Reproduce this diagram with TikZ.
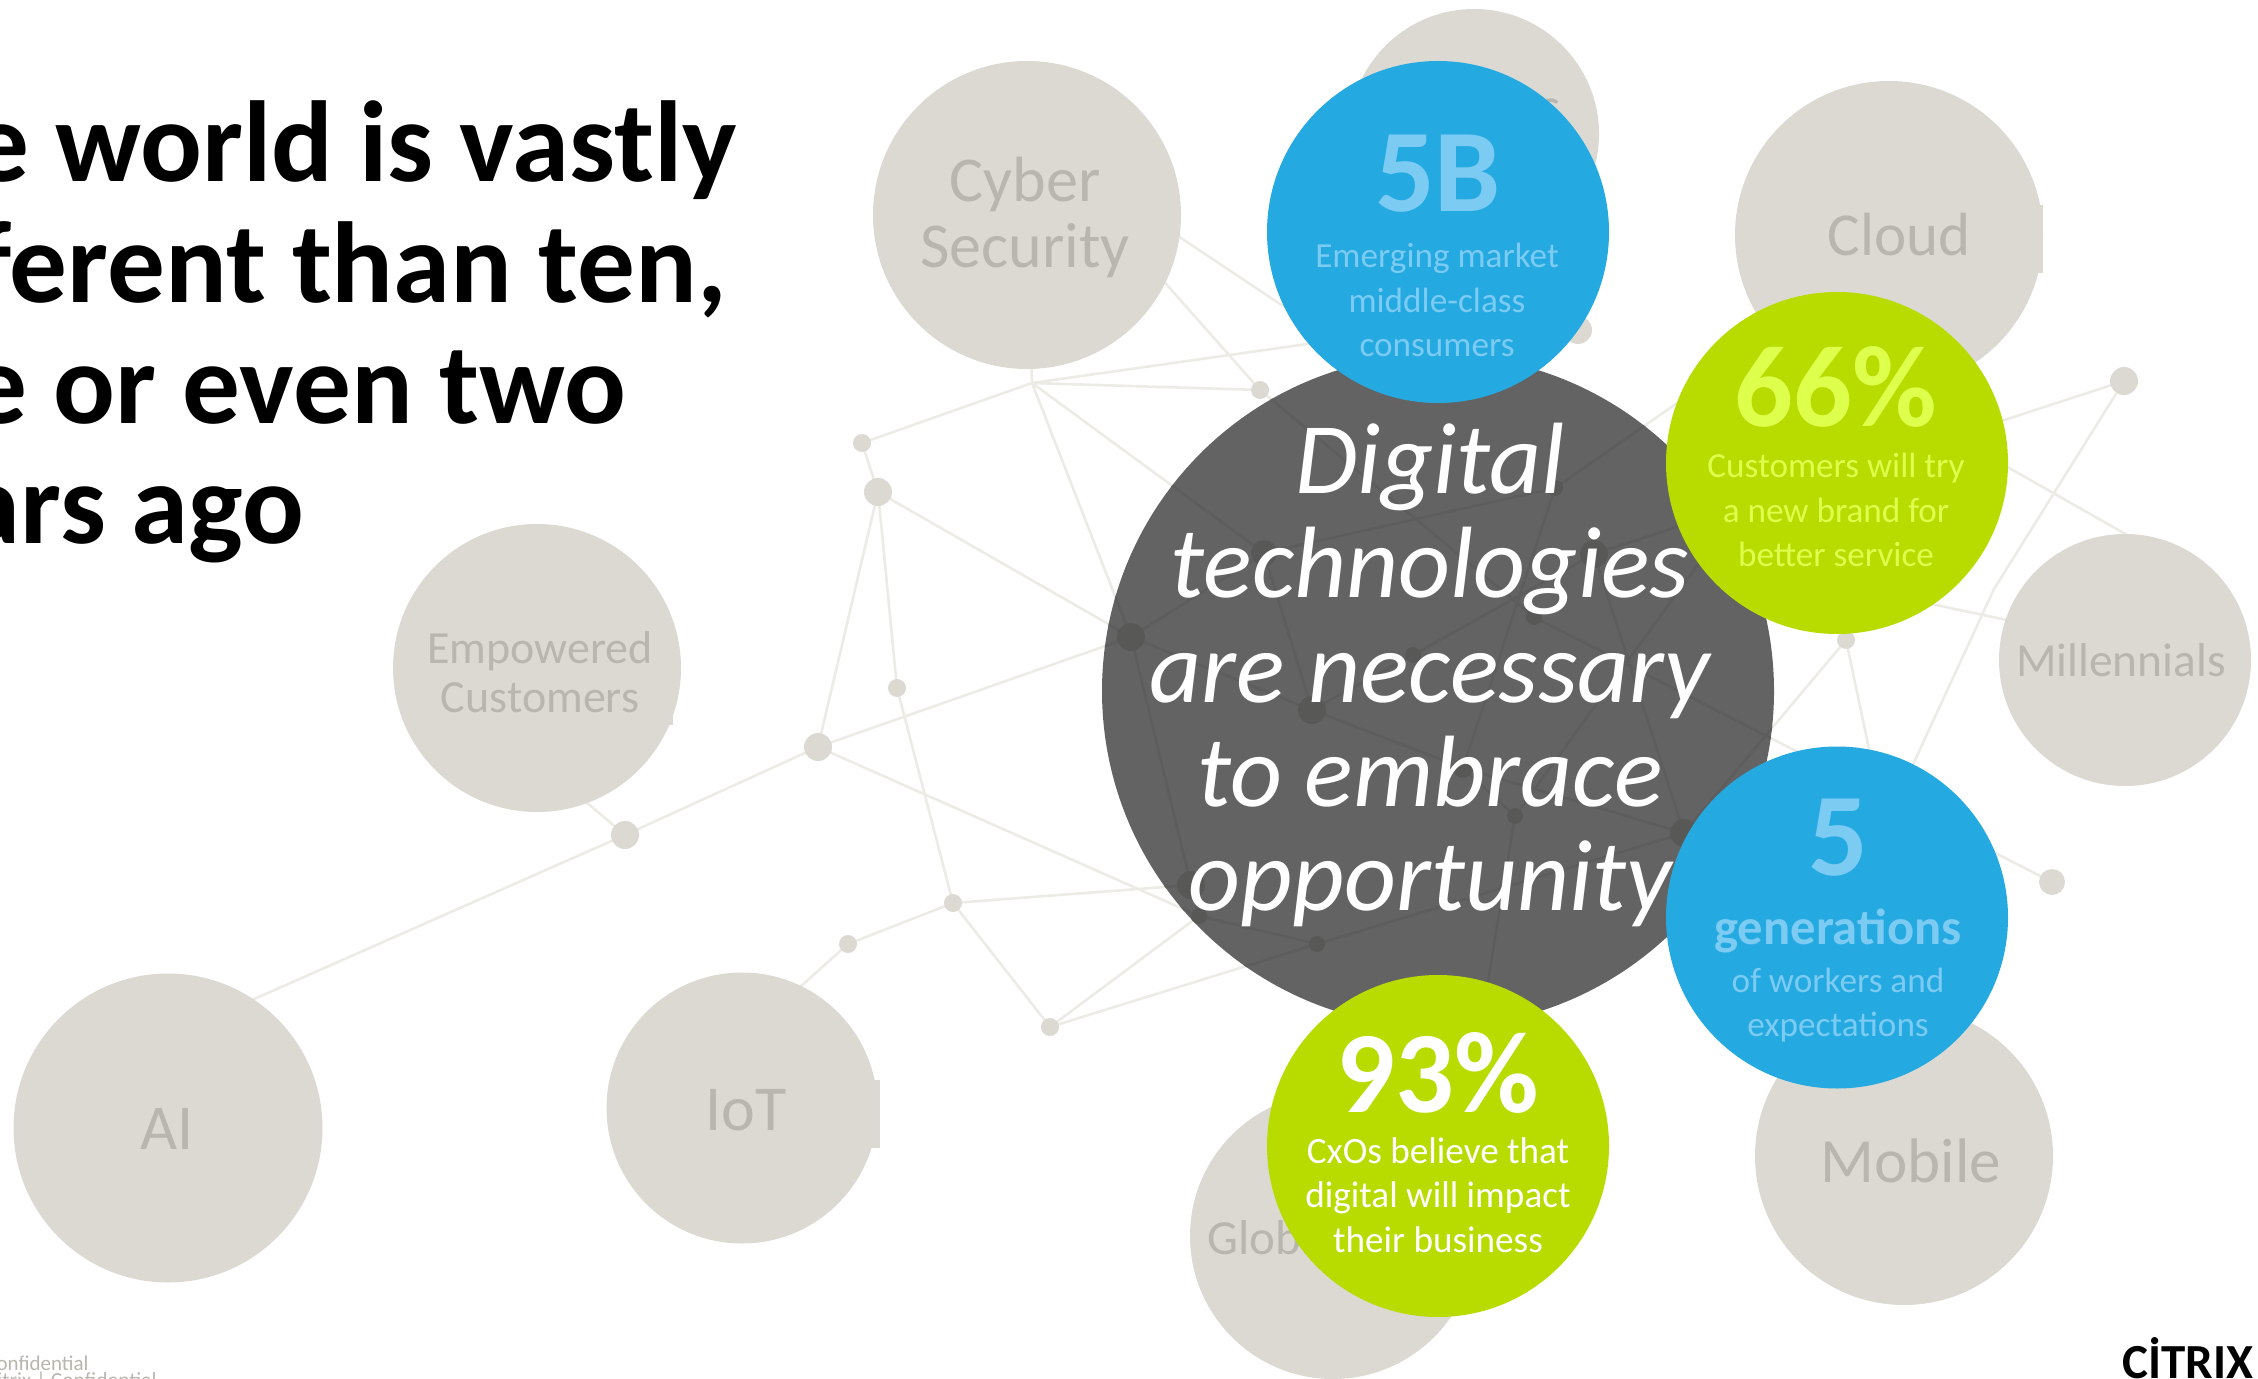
\documentclass[tikz,border=0pt]{standalone}
\usepackage{fontspec}
\setmainfont{Carlito}
\definecolor{bubgray}{HTML}{DCD9D3}
\definecolor{gtext}{HTML}{B9B6B0}
\definecolor{netlight}{HTML}{ECEBE6}
\definecolor{bubdark}{HTML}{636363}
\definecolor{netdark}{HTML}{5D5D5D}
\definecolor{dotdark}{HTML}{585856}
\definecolor{bubblue}{HTML}{25A9E1}
\definecolor{bluetxt}{HTML}{7CCBF2}
\definecolor{bubgreen}{HTML}{B8DC00}
\definecolor{greentxt}{HTML}{DFFF4D}
\newcommand{\fs}[2]{\fontsize{#1pt}{#2pt}\selectfont}
\tikzset{
  bub/.style={circle,inner sep=0pt,minimum size=#1 pt},
  gbub/.style={bub=#1,fill=bubgray},
  dot/.style={circle,inner sep=0pt,minimum size=#1 pt,fill=dotcol},
  netline/.style={draw=linecol,line width=1.3pt},
  lbl/.style={inner sep=0pt,align=center},
}
\colorlet{dotcol}{bubgray}
\colorlet{linecol}{netlight}
\newcommand{\netlinks}{%
  \draw[netline] (hub)--(cyberc) (hub)--(n1) (n1)--(n2) (n2)--(n4) (n2)--(n3) (n2)--(A)
    (n3)--(n6) (n4)--(A) (n4)--(n5) (n4)--(K) (n5)--(aiA) (n5)--(empA)
    (n6)--(n7) (n7)--(iotA) (n6)--(J) (n6)--(n8) (n8)--(K) (n8)--(L)
    (hub)--(A) (hub)--(B) (hub)--(P) (hub)--(hidA)
    (P)--(cybA) (hidB)--(cybB) (P)--(E) (B)--(G) (A)--(B) (B)--(C) (A)--(C)
    (C)--(H) (H)--(M) (C)--(D) (D)--(F) (G)--(H) (E)--(R) (I)--(hidC) (L)--(M)
    (A)--(J) (J)--(K) (K)--(L) (F)--(M) (F)--(S) (G)--(Z) (Z)--(milA) (I)--(H)
    (I)--(Y) (Y)--(milB) (Q)--(M) (Q)--(X) (T)--(X) (S)--(T);}
\newcommand{\netdots}{%
  \node[dot=9] (dn1) at (n1) {};
  \node[dot=14] (dn2) at (n2) {};
  \node[dot=9] (dn3) at (n3) {};
  \node[dot=14] (dn4) at (n4) {};
  \node[dot=14] (dn5) at (n5) {};
  \node[dot=9] (dn6) at (n6) {};
  \node[dot=9] (dn7) at (n7) {};
  \node[dot=9] (dn8) at (n8) {};
  \node[dot=9] (dP) at (P) {};
  \node[dot=14] (dO) at (O) {};
  \node[dot=14] (dA) at (A) {};
  \node[dot=13] (dB) at (B) {};
  \node[dot=14] (dC) at (C) {};
  \node[dot=8] (dD) at (D) {};
  \node[dot=8] (dE) at (E) {};
  \node[dot=14] (dF) at (F) {};
  \node[dot=8] (dG) at (G) {};
  \node[dot=10] (dH) at (H) {};
  \node[dot=8] (dI) at (I) {};
  \node[dot=14] (dJ) at (J) {};
  \node[dot=8] (dK) at (K) {};
  \node[dot=8] (dL) at (L) {};
  \node[dot=14] (dM) at (M) {};
  \node[dot=9] (dQ) at (Q) {};
  \node[dot=13] (dR) at (R) {};
  \node[dot=14] (dS) at (S) {};}
\begin{document}
\begin{tikzpicture}[x=0.5pt,y=-0.5pt]
\useasboundingbox (0,0) rectangle (2258,1379);
\clip (0,0) rectangle (2258,1379);
% positions
\coordinate (cyberc) at (1027,215);
\coordinate (aic) at (168,1128);
\coordinate (aiA) at (200,1023);
\coordinate (empc) at (537,668);
\coordinate (empA) at (540,763);
\coordinate (iotc) at (742,1108);
\coordinate (iotA) at (780,1005);
\coordinate (hub) at (1032,383);
\coordinate (n1) at (862,443);
\coordinate (n2) at (878,492);
\coordinate (n3) at (897,688);
\coordinate (n4) at (818,747);
\coordinate (n5) at (625,835);
\coordinate (n6) at (953,903);
\coordinate (n7) at (848,944);
\coordinate (n8) at (1050,1027);
\coordinate (P) at (1260,390);
\coordinate (O) at (1578,330);
\coordinate (A) at (1131,637);
\coordinate (B) at (1264,553);
\coordinate (C) at (1312,710);
\coordinate (D) at (1413,655);
\coordinate (E) at (1534,617);
\coordinate (F) at (1594,554);
\coordinate (G) at (1555,488);
\coordinate (H) at (1463,768);
\coordinate (I) at (1515,816);
\coordinate (J) at (1191,885);
\coordinate (K) at (1199,916);
\coordinate (L) at (1317,944);
\coordinate (M) at (1684,833);
\coordinate (Q) at (1846,640);
\coordinate (R) at (2052,882);
\coordinate (S) at (2124,381);
\coordinate (T) at (1994,589);
\coordinate (X) at (1885,825);
\coordinate (Y) at (1704,556);
\coordinate (Z) at (1775,335);
\coordinate (milA) at (2150,548);
\coordinate (milB) at (2040,627);
\coordinate (hidA) at (1420,328);
\coordinate (hidB) at (1400,384);
\coordinate (hidC) at (1480,1030);
\coordinate (cybA) at (1120,232);
\coordinate (cybB) at (1100,184);
% light network
\netlinks
\netdots
% grey topic circles
\node[gbub=154] (cyber) at (cyberc) {};
\node[lbl,font=\fs{32}{33},text=gtext] (cybert) at (1025,217) {Cyber\\Security};
\node[gbub=125] (top) at (1474,134) {};
\node[lbl,anchor=base east,font=\fs{27.5}{33},text=gtext] (tops) at (1561,126) {s};
\node[gbub=154] (cloud) at (1889,235) {};
\fill[bubgray] (2038,205) rectangle (2043,273);
\node[lbl,font=\fs{30.5}{33},text=gtext] (cloudt) at (1899,235) {Cloud};
\node[gbub=126] (mill) at (2125,660) {};
\node[lbl,font=\fs{23.7}{28},text=gtext] (millt) at (2121,660) {Millennials};
\node[gbub=144] (emp) at (empc) {};
\fill[bubgray] (668,700) rectangle (673,725);
\node[lbl,font=\fs{23}{24.5},text=gtext] (empt) at (540,672) {Empowered\\Customers};
\node[gbub=154.5] (ai) at (aic) {};
\node[lbl,font=\fs{32}{33},text=gtext] (ait) at (167,1129) {AI};
\node[gbub=135.5] (iot) at (iotc) {};
\fill[bubgray] (871,1080) rectangle (880,1148);
\node[lbl,font=\fs{32}{33},text=gtext] (iott) at (746,1110) {IoT};
\node[gbub=143] (glob) at (1333,1236) {};
\node[lbl,anchor=west,font=\fs{24.5}{28},text=gtext] (globt) at (1207,1238) {Global};
\node[gbub=149] (mob) at (1904,1156) {};
\node[lbl,font=\fs{31.5}{36},text=gtext] (mobt) at (1911,1161) {Mobile};
% dark centre
\node[bub=336,fill=bubdark] (core) at (1438,691) {};
\begin{scope}
  \clip (1438,691) circle [radius=336];
  \colorlet{dotcol}{dotdark}
  \colorlet{linecol}{netdark}
  \netlinks
  \netdots
\end{scope}
\node[lbl,font=\fs{50.7}{52.2}\itshape,text=white] (coret) at (1430,675) {Digital\\technologies\\are necessary\\to embrace\\opportunity};
% stat bubbles
\node[bub=171,fill=bubblue] (b1) at (1438,232) {};
\node[lbl,anchor=base,font=\fs{59}{70}\bfseries,text=bluetxt] (b1n) at (1438,212) {5B};
\node[lbl,font=\fs{17.6}{22.3},text=bluetxt] (b1t) at (1437,300) {Emerging market\\middle-class\\consumers};
\node[bub=171,fill=bubgreen] (g1) at (1837,463) {};
\node[lbl,anchor=base,font=\fs{58}{70}\bfseries,text=greentxt] (g1n) at (1836,427) {66\%};
\node[lbl,font=\fs{17.6}{22.3},text=greentxt] (g1t) at (1836,510) {Customers will try\\a new brand for\\better service};
\node[bub=171,fill=bubblue] (b2) at (1837,917.5) {};
\node[lbl,anchor=base,font=\fs{59}{70}\bfseries,text=bluetxt] (b2n) at (1838,875) {5};
\node[lbl,anchor=base,font=\fs{25.3}{30}\bfseries,text=bluetxt] (b2g) at (1838,944) {generations};
\node[lbl,font=\fs{17.6}{22.3},text=bluetxt] (b2t) at (1838,1005) {of workers and\\expectations};
\node[bub=171,fill=bubgreen] (g2) at (1438,1146) {};
\node[lbl,anchor=base,font=\fs{58}{70}\bfseries,text=white] (g2n) at (1438,1112) {93\%};
\node[lbl,font=\fs{18.6}{22.3},text=white] (g2t) at (1438,1195) {CxOs believe that\\digital will impact\\their business};
% title
\node[lbl,anchor=west,align=left,font=\fs{57.6}{60.4}\bfseries,text=black] (title) at (-148,332) {The world is vastly\\different than ten,\\five or even two\\years ago};
% footer
\node[lbl,anchor=base east,font=\fs{10.5}{11},text=gtext] (conf) at (89,1370) {Confidential};
\node[lbl,anchor=base east,font=\fs{10.75}{12},text=gtext] (conf2) at (157,1387) {Citrix | Confidential};
\node[lbl,anchor=base east,font=\fs{24.5}{28}\bfseries,text=black] (logo) at (2254,1378) {CİTRIX};
\end{tikzpicture}
\end{document}
